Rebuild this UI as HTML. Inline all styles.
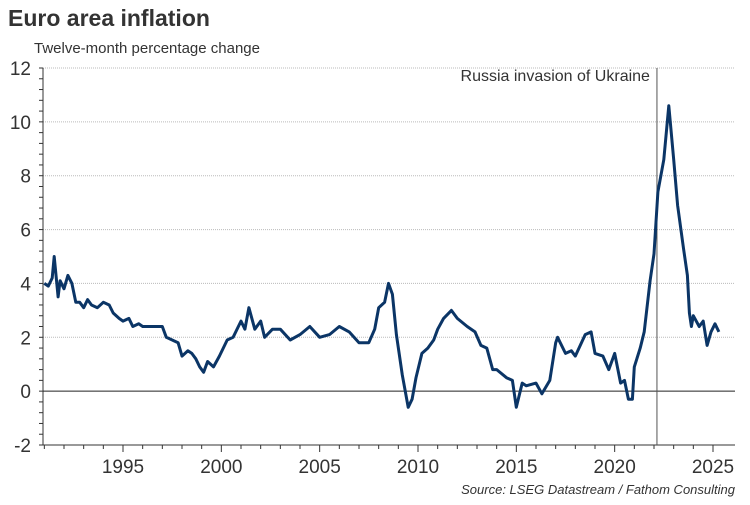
<!DOCTYPE html>
<html><head><meta charset="utf-8"><style>
body{margin:0;background:#fff;width:750px;height:500px;overflow:hidden;font-family:"Liberation Sans",sans-serif}
</style></head><body>
<svg id="chart" width="750" height="500" xmlns="http://www.w3.org/2000/svg" font-family="Liberation Sans, sans-serif">
<text x="8" y="26" font-size="23" font-weight="bold" fill="#333">Euro area inflation</text>
<text x="34" y="53" font-size="15" fill="#333">Twelve-month percentage change</text>
<text x="735" y="494" font-size="13" font-style="italic" fill="#333" text-anchor="end">Source: LSEG Datastream / Fathom Consulting</text>
<g id="grid"></g><g id="axes"></g><g id="series"></g>
</svg>
<script>
const yTicks=[-2,0,2,4,6,8,10,12];
const xTickYears=[1995,2000,2005,2010,2015,2020,2025];
const dates=[1991.0,1991.2,1991.4,1991.5,1991.7,1991.8,1992.0,1992.2,1992.4,1992.6,1992.8,1993.0,1993.2,1993.4,1993.7,1994.0,1994.3,1994.5,1994.8,1995.0,1995.3,1995.5,1995.8,1996.0,1996.5,1997.0,1997.2,1997.5,1997.8,1998.0,1998.3,1998.5,1998.7,1998.9,1999.1,1999.3,1999.6,1999.9,2000.3,2000.6,2001.0,2001.2,2001.4,2001.7,2002.0,2002.2,2002.6,2003.0,2003.5,2004.0,2004.5,2005.0,2005.5,2006.0,2006.5,2007.0,2007.5,2007.8,2008.0,2008.3,2008.5,2008.7,2008.9,2009.2,2009.5,2009.7,2009.9,2010.2,2010.5,2010.8,2011.0,2011.3,2011.7,2012.0,2012.5,2012.9,2013.2,2013.5,2013.8,2014.0,2014.5,2014.8,2015.0,2015.3,2015.5,2016.0,2016.3,2016.7,2017.0,2017.1,2017.5,2017.8,2018.0,2018.5,2018.8,2019.0,2019.4,2019.7,2020.0,2020.3,2020.5,2020.7,2020.9,2021.0,2021.3,2021.5,2021.8,2022.0,2022.2,2022.5,2022.75,2023.0,2023.2,2023.5,2023.7,2023.8,2023.9,2024.0,2024.3,2024.5,2024.7,2024.9,2025.1,2025.3];
const values=[4.0,3.9,4.2,5.0,3.5,4.1,3.8,4.3,4.0,3.3,3.3,3.1,3.4,3.2,3.1,3.3,3.2,2.9,2.7,2.6,2.7,2.4,2.5,2.4,2.4,2.4,2.0,1.9,1.8,1.3,1.5,1.4,1.2,0.9,0.7,1.1,0.9,1.3,1.9,2.0,2.6,2.3,3.1,2.3,2.6,2.0,2.3,2.3,1.9,2.1,2.4,2.0,2.1,2.4,2.2,1.8,1.8,2.3,3.1,3.3,4.0,3.6,2.1,0.6,-0.6,-0.3,0.5,1.4,1.6,1.9,2.3,2.7,3.0,2.7,2.4,2.2,1.7,1.6,0.8,0.8,0.5,0.4,-0.6,0.3,0.2,0.3,-0.1,0.4,1.8,2.0,1.4,1.5,1.3,2.1,2.2,1.4,1.3,0.8,1.4,0.3,0.4,-0.3,-0.3,0.9,1.6,2.2,4.1,5.1,7.4,8.6,10.6,8.6,6.9,5.3,4.3,2.9,2.4,2.8,2.4,2.6,1.7,2.2,2.5,2.2];
const eventYear=2022.15, eventLabel="Russia invasion of Ukraine";
const X0=43,X1=735,Y0=68,Y1=445;
const xs=y=>123+(y-1995)*(590/30);
const ys=v=>Y1-(v+2)*(Y1-Y0)/14;
const NS="http://www.w3.org/2000/svg";
function mk(tag,attrs,parent){const e=document.createElementNS(NS,tag);for(const k in attrs)e.setAttribute(k,attrs[k]);document.getElementById(parent).appendChild(e);return e;}
yTicks.forEach(t=>{
  if(t>-2&&t!==0){const g=mk('line',{x1:X0,x2:X1,y1:ys(t),y2:ys(t),stroke:'#bbb','stroke-dasharray':'1,1'},'grid');
  
  }
  const l=mk('text',{x:31,y:ys(t)+7,'font-size':19,'text-anchor':'end',fill:'#333'},'axes');l.textContent=t;
  
  
});
for(let v=-2;v<=12.01;v+=0.4){mk('line',{x1:X0-4,x2:X0,y1:ys(v),y2:ys(v),stroke:'#333'},'axes');}
for(let y=1991;y<=2025;y++){mk('line',{x1:xs(y),x2:xs(y),y1:Y1,y2:Y1+(y%5===0?7:4),stroke:'#333'},'axes');}
xTickYears.forEach(y=>{const l=mk('text',{x:xs(y),y:473,'font-size':19,'text-anchor':'middle',fill:'#333'},'axes');l.textContent=y;
  
  });
const ya=mk('line',{x1:X0,x2:X0,y1:Y0,y2:Y1,stroke:'#333'},'axes');


const xa=mk('line',{x1:X0,x2:X1,y1:Y1,y2:Y1,stroke:'#333'},'axes');


const z=mk('line',{x1:X0,x2:X1,y1:ys(0),y2:ys(0),stroke:'#222'},'axes');


const ev=mk('line',{x1:xs(eventYear),x2:xs(eventYear),y1:Y0,y2:Y1,stroke:'#555'},'axes');


const et=mk('text',{x:xs(eventYear)-7,y:81,'font-size':16,'text-anchor':'end',fill:'#333'},'axes');et.textContent=eventLabel;


const p=mk('path',{d:dates.map((d,i)=>(i?'L':'M')+xs(d).toFixed(1)+','+ys(values[i]).toFixed(1)).join(''),fill:'none',stroke:'#0b3566','stroke-width':3,'stroke-linejoin':'round'},'series');


</script>
</body></html>
